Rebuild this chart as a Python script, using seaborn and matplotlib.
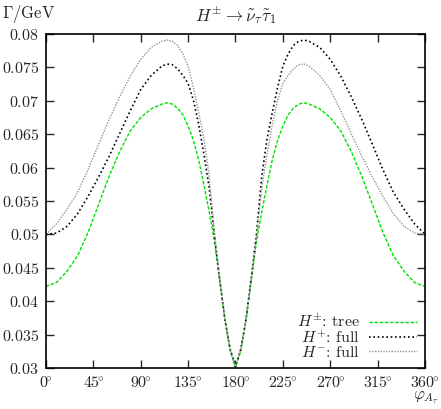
import matplotlib
matplotlib.use("Agg")
import matplotlib.pyplot as plt
import pandas as pd
import seaborn as sns

# angle phi_{A_tau} in degrees
angles = [0, 10, 20, 30, 40, 50, 60, 70, 80, 90, 100, 110, 115, 120, 125, 130, 135, 140, 145, 150,
          155, 160, 165, 170, 175, 180, 185, 190, 195, 200, 205, 210, 215, 220, 225, 230, 235, 240,
          245, 250, 260, 270, 280, 290, 300, 310, 320, 330, 340, 350, 360]

# Gamma / GeV
tree = [0.0422, 0.0428, 0.0445, 0.0468, 0.0503, 0.0545, 0.0587, 0.0624, 0.0655, 0.0675, 0.0688,
        0.0695, 0.0697, 0.0695, 0.0689, 0.0679, 0.0662, 0.0641, 0.0612, 0.0574, 0.0534, 0.0490,
        0.0432, 0.0372, 0.0325, 0.0302,
        0.0325, 0.0372, 0.0432, 0.0490, 0.0534, 0.0574, 0.0612, 0.0641, 0.0662, 0.0679, 0.0689,
        0.0695, 0.0697, 0.0695, 0.0688, 0.0675, 0.0655, 0.0624, 0.0587, 0.0545, 0.0503, 0.0468,
        0.0445, 0.0428, 0.0422]

hplus_full = [0.0500, 0.0502, 0.0512, 0.0531, 0.0557, 0.0586, 0.0617, 0.0651, 0.0685, 0.0717,
              0.0738, 0.0752, 0.0755, 0.0754, 0.0748, 0.0738, 0.0726, 0.0701, 0.0665, 0.0620,
              0.0570, 0.0498, 0.0432, 0.0372, 0.0328, 0.0302,
              0.0328, 0.0373, 0.0435, 0.0502, 0.0588, 0.0643, 0.0683, 0.0720, 0.0752, 0.0770,
              0.0783, 0.0789, 0.0791, 0.0789, 0.0780, 0.0762, 0.0737, 0.0706, 0.0672, 0.0635,
              0.0597, 0.0563, 0.0538, 0.0516, 0.0500]

hminus_full = [0.0500, 0.0516, 0.0538, 0.0563, 0.0597, 0.0635, 0.0672, 0.0706, 0.0737, 0.0762,
               0.0780, 0.0789, 0.0791, 0.0789, 0.0783, 0.0770, 0.0752, 0.0720, 0.0683, 0.0643,
               0.0588, 0.0502, 0.0435, 0.0373, 0.0328, 0.0302,
               0.0328, 0.0372, 0.0432, 0.0498, 0.0570, 0.0620, 0.0665, 0.0701, 0.0726, 0.0738,
               0.0748, 0.0754, 0.0755, 0.0752, 0.0738, 0.0717, 0.0685, 0.0651, 0.0617, 0.0586,
               0.0557, 0.0531, 0.0512, 0.0502, 0.0500]

labels = [r"$H^{\pm}$: tree", r"$H^{+}$: full", r"$H^{-}$: full"]
xticks = [0, 45, 90, 135, 180, 225, 270, 315, 360]
yticks = [0.03, 0.035, 0.04, 0.045, 0.05, 0.055, 0.06, 0.065, 0.07, 0.075, 0.08]

sns.set_style("ticks")
plt.rcParams["mathtext.fontset"] = "cm"
plt.rcParams["font.family"] = ["cmr10", "DejaVu Serif"]
plt.rcParams["axes.unicode_minus"] = False

df = pd.DataFrame({"angle": angles, "tree": tree, "hplus": hplus_full, "hminus": hminus_full})

fig = plt.figure(figsize=(4.41, 4.09), dpi=100)
ax = fig.add_axes([0.1043, 0.1002, 0.8594, 0.8167])

sns.lineplot(data=df, x="angle", y="tree", ax=ax, color="#00e000", lw=1.0, label=labels[0])
sns.lineplot(data=df, x="angle", y="hplus", ax=ax, color="black", lw=1.2, label=labels[1])
sns.lineplot(data=df, x="angle", y="hminus", ax=ax, color="#959595", lw=1.0, label=labels[2])

ax.lines[0].set_linestyle((0, (2.5, 1.2)))
ax.lines[1].set_linestyle((0, (1, 1.6)))
ax.lines[2].set_linestyle((0, (1, 1)))

ax.set_xlim(0, 360)
ax.set_ylim(0.03, 0.08)
ax.set_xticks(xticks)
ax.set_xticklabels([r"${%d\!}^{\circ}$" % t for t in xticks])
ax.set_yticks(yticks)
ax.set_yticklabels([r"$%s$" % ("%g" % t) for t in yticks])
ax.tick_params(direction="in", length=6, width=1, top=True, right=True, labelsize=11.5, pad=5)
for sp in ax.spines.values():
    sp.set_linewidth(1.2)
    sp.set_color("black")
    sp.set_visible(True)

ax.set_xlabel("")
ax.set_ylabel("")
fig.text(0.005, 0.965, r"$\Gamma/\mathrm{GeV}$", fontsize=12, ha="left", va="center")
fig.text(0.535, 0.963, r"$H^{\pm} \rightarrow \tilde{\nu}_{\tau} \tilde{\tau}_1$", fontsize=12.5,
         ha="center", va="center")
fig.text(0.995, 0.027, r"$\varphi_{A_{\tau}}$", fontsize=12, ha="right", va="center")

ax.legend(loc="lower right", frameon=False, markerfirst=False, fontsize=11.5, handlelength=3.0,
          labelspacing=-0.05, borderaxespad=0.2, borderpad=0.3, handletextpad=0.6)

fig.savefig("out.png", dpi=100)
